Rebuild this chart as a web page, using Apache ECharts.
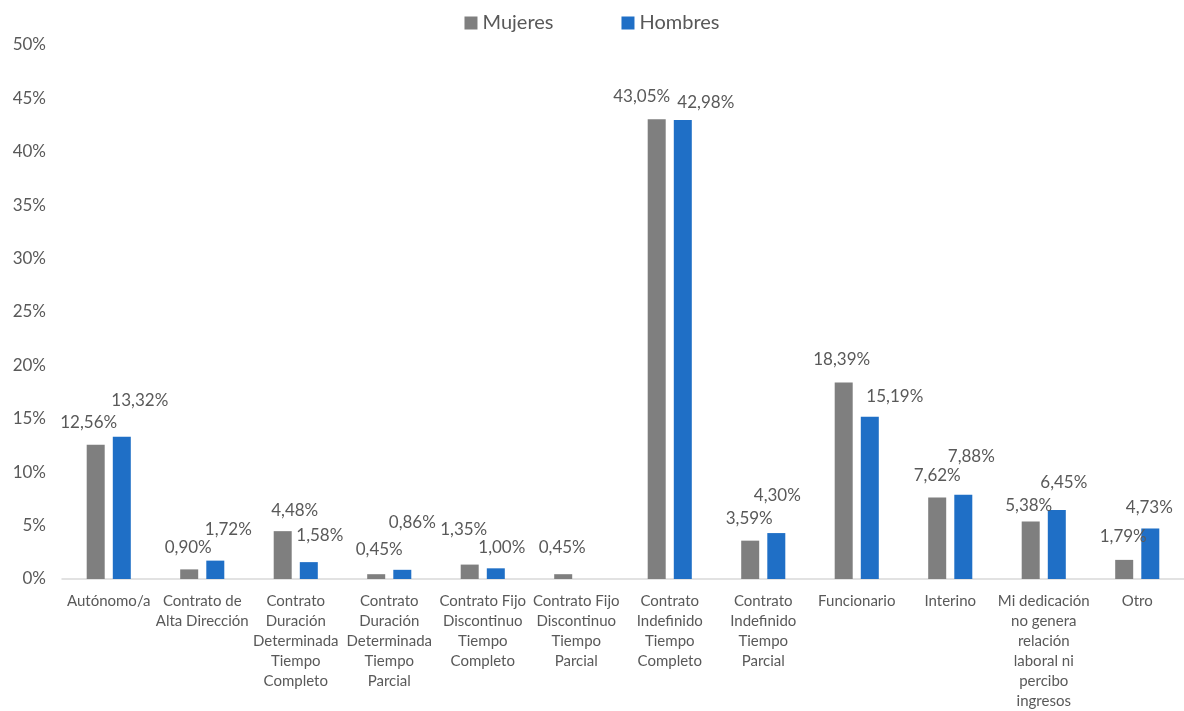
<!DOCTYPE html>
<html lang="es">
<head>
    <meta charset="utf-8" />
    <title>Tipo de relación laboral</title>
    <script src="https://cdn.jsdelivr.net/npm/echarts@6/dist/echarts.min.js"></script>
    <style>
        html, body { margin: 0; padding: 0; background: #fff; }
        #main { width: 1184px; height: 711px; }
    </style>
</head>
<body>
    <div id="main"></div>
    <script>
        // categorias (con los saltos de linea del original)
        var categories = [
            'Autónomo/a',
            'Contrato de\nAlta Dirección',
            'Contrato\nDuración\nDeterminada\nTiempo\nCompleto',
            'Contrato\nDuración\nDeterminada\nTiempo\nParcial',
            'Contrato Fijo\nDiscontinuo\nTiempo\nCompleto',
            'Contrato Fijo\nDiscontinuo\nTiempo\nParcial',
            'Contrato\nIndefinido\nTiempo\nCompleto',
            'Contrato\nIndefinido\nTiempo\nParcial',
            'Funcionario',
            'Interino',
            'Mi dedicación\nno genera\nrelación\nlaboral ni\npercibo\ningresos',
            'Otro'
        ];
        var mujeres = [12.56, 0.90, 4.48, 0.45, 1.35, 0.45, 43.05, 3.59, 18.39, 7.62, 5.38, 1.79];
        var hombres = [13.32, 1.72, 1.58, 0.86, 1.00, null, 42.98, 4.30, 15.19, 7.88, 6.45, 4.73];
        var yTicks = [0, 5, 10, 15, 20, 25, 30, 35, 40, 45, 50];

        // desplazamiento de cada etiqueta respecto a la parte alta de su barra (como en Excel)
        var nudgeM = [[-7, -22], [-1, -22], [12, -21], [3, -25], [-6, -35], [-1, -27],
                      [-15, -23], [-1, -22], [-2, -23], [0, -22], [-2, -16], [-1, -23]];
        var nudgeH = [[18, -36], [13, -31], [11, -27], [10, -47], [6, -21], [0, 0],
                      [23, -17], [1, -38], [25, -20], [8, -38], [7, -28], [-1, -21]];

        var FONT = 'Lato';
        var TXT = '#595959';
        var LH = 18;

        function pct(v) {
            return v.toFixed(2).replace('.', ',') + '%';
        }

        function barData(values, nudge) {
            return values.map(function (v, i) {
                return {
                    value: v,
                    label: { offset: [nudge[i][0], nudge[i][1] + LH / 2] }
                };
            });
        }

        function labelStyle() {
            return {
                show: true,
                position: 'top',
                distance: 0,
                color: TXT,
                fontSize: 17,
                lineHeight: LH,
                fontFamily: FONT,
                formatter: function (p) { return p.value == null ? '' : pct(p.value); }
            };
        }

        var chart = echarts.init(document.getElementById('main'));
        var option = {
            animation: false,
            textStyle: { fontFamily: FONT },
            legend: {
                top: 8,
                left: 'center',
                itemWidth: 13,
                itemHeight: 13,
                itemGap: 68,
                icon: 'rect',
                textStyle: { fontSize: 20, color: TXT, fontFamily: FONT },
                data: ['Mujeres', 'Hombres']
            },
            grid: { left: 62, right: 0, top: 45, bottom: 130, containLabel: false },
            xAxis: {
                type: 'category',
                data: categories,
                axisLine: { lineStyle: { color: '#d9d9d9', width: 1.5 } },
                axisTick: { show: false },
                axisLabel: {
                    interval: 0,
                    color: TXT,
                    fontSize: 15,
                    lineHeight: 20,
                    margin: 12,
                    fontFamily: FONT
                }
            },
            yAxis: {
                type: 'value',
                min: yTicks[0],
                max: yTicks[yTicks.length - 1],
                interval: 5,
                splitLine: { show: false },
                axisLine: { show: false },
                axisTick: { show: false },
                axisLabel: {
                    color: TXT,
                    fontSize: 17,
                    margin: 16,
                    fontFamily: FONT,
                    formatter: function (v) { return v + '%'; }
                }
            },
            series: [
                {
                    name: 'Mujeres',
                    type: 'bar',
                    data: barData(mujeres, nudgeM),
                    barWidth: 18,
                    barGap: '45%',
                    itemStyle: { color: '#7f7f7f' },
                    label: labelStyle()
                },
                {
                    name: 'Hombres',
                    type: 'bar',
                    data: barData(hombres, nudgeH),
                    barWidth: 18,
                    itemStyle: { color: '#1f6fc6' },
                    label: labelStyle()
                }
            ]
        };
        chart.setOption(option);
    </script>
</body>
</html>
